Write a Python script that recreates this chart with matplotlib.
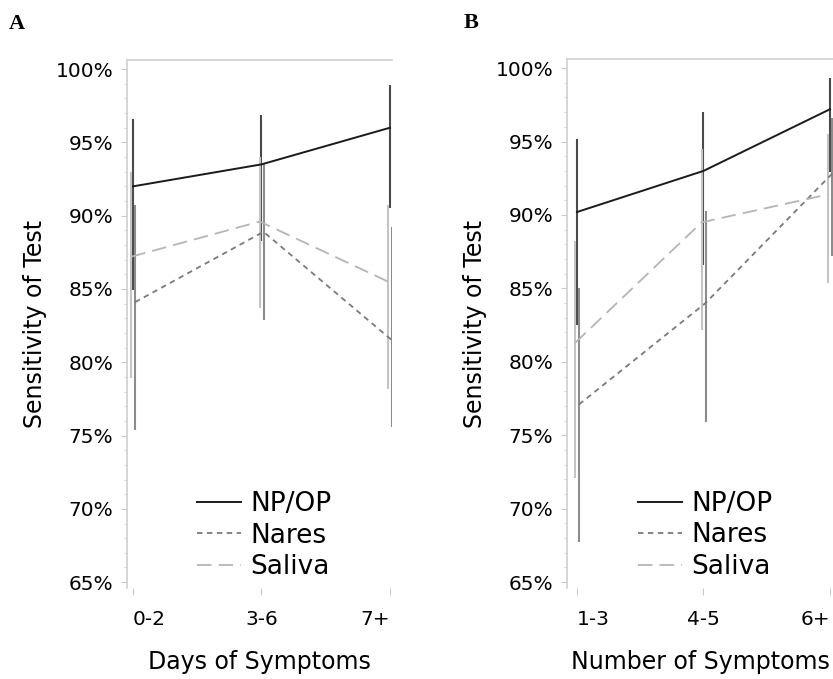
import matplotlib
matplotlib.use("Agg")
import matplotlib.pyplot as plt
from matplotlib.lines import Line2D
from matplotlib.ticker import MultipleLocator, FuncFormatter

# ---------------- data ----------------
days_labels = ["0-2", "3-6", "7+"]
num_labels = ["1-3", "4-5", "6+"]

# Panel A: Days of symptoms
A_np = [92.0, 93.5, 96.0]
A_np_lo = [84.9, 88.3, 90.5]
A_np_hi = [96.6, 96.9, 98.9]
A_nares = [84.1, 88.9, 81.5]
A_nares_lo = [75.4, 82.9, 75.6]
A_nares_hi = [90.7, 93.5, 89.2]
A_saliva = [87.2, 89.6, 85.5]
A_saliva_lo = [78.9, 83.7, 78.2]
A_saliva_hi = [93.0, 94.0, 90.7]

# Panel B: Number of symptoms
B_np = [90.2, 93.0, 97.2]
B_np_lo = [82.5, 86.6, 92.9]
B_np_hi = [95.2, 97.0, 99.3]
B_nares = [77.1, 84.0, 92.8]
B_nares_lo = [67.7, 75.9, 87.2]
B_nares_hi = [85.0, 90.3, 96.6]
B_saliva = [81.3, 89.5, 91.4]
B_saliva_lo = [72.1, 82.2, 85.4]
B_saliva_hi = [88.2, 94.5, 95.5]

series_names = ["NP/OP", "Nares", "Saliva"]

# ---------------- style ----------------
FONT = "DejaVu Sans"
plt.rcParams["font.family"] = [FONT]
line_styles = {
    "NP/OP": dict(color="#1a1a1a", lw=1.4, ls="-"),
    "Nares": dict(color="#7a7a7a", lw=1.3, ls=(0, (3, 2.5))),
    "Saliva": dict(color="#b5b5b5", lw=1.3, ls=(0, (8, 4))),
}
bar_colors = {"NP/OP": "#4a4a4a", "Nares": "#8c8c8c", "Saliva": "#c4c4c4"}
offsets = {"NP/OP": 0.0, "Nares": 0.016, "Saliva": -0.014}

W, H = 833, 679
fig = plt.figure(figsize=(W / 100, H / 100), dpi=100)

def px_axes(left, right, top, bottom):
    return fig.add_axes([left / W, (H - bottom) / H, (right - left) / W, (bottom - top) / H])

axA = px_axes(127, 392, 60, 588)
axB = px_axes(567, 833, 59, 588)

def draw(ax, labels, data, xlim, xtitle, leg_x):
    xs = list(range(len(labels)))
    for name in series_names:
        y, lo, hi = data[name]
        xo = [x + offsets[name] for x in xs]
        ax.vlines(xo, lo, hi, color=bar_colors[name], lw=1.5, zorder=2)
    for name in series_names:
        y, lo, hi = data[name]
        xo = [x + offsets[name] for x in xs]
        ax.plot(xo, y, zorder=3, **line_styles[name])
    ax.set_xlim(*xlim)
    ax.set_ylim(64.6, 100.62)
    for s in ["right", "bottom"]:
        ax.spines[s].set_visible(False)
    for s in ["left", "top"]:
        ax.spines[s].set_color("#d0d0d0")
        ax.spines[s].set_linewidth(1.2)
    ax.yaxis.set_major_locator(MultipleLocator(5))
    ax.yaxis.set_minor_locator(MultipleLocator(1))
    ax.yaxis.set_major_formatter(FuncFormatter(lambda v, p: f"{v:.0f}%"))
    ax.tick_params(axis="y", which="major", length=4, width=0.8, color="#c8c8c8",
                   labelsize=14.5, pad=6)
    ax.tick_params(axis="y", which="minor", length=2.5, width=0.7, color="#d8d8d8")
    ax.set_xticks(xs)
    ax.set_xticklabels(labels)
    ax.tick_params(axis="x", length=5, width=0.8, color="#c8c8c8", labelsize=14.5, pad=11)
    tls = ax.get_xticklabels()
    tls[0].set_ha("left")
    tls[-1].set_ha("right")
    ax.set_xlabel(xtitle, fontsize=17)
    ax.xaxis.set_label_coords(0.5, -0.14)
    ax.xaxis.label.set_va("center")
    ax.set_ylabel("Sensitivity of Test", fontsize=17)
    ax.yaxis.set_label_coords(-0.347, 0.5)
    ax.yaxis.label.set_va("center")
    handles = [Line2D([], [], **line_styles[n]) for n in series_names]
    ax.legend(handles, series_names, loc="upper left", frameon=False, fontsize=19,
              bbox_to_anchor=(leg_x, 0.183), handlelength=1.65, handletextpad=0.38,
              labelspacing=0.2, borderaxespad=0, borderpad=0)

dataA = {"NP/OP": (A_np, A_np_lo, A_np_hi),
         "Nares": (A_nares, A_nares_lo, A_nares_hi),
         "Saliva": (A_saliva, A_saliva_lo, A_saliva_hi)}
dataB = {"NP/OP": (B_np, B_np_lo, B_np_hi),
         "Nares": (B_nares, B_nares_lo, B_nares_hi),
         "Saliva": (B_saliva, B_saliva_lo, B_saliva_hi)}

draw(axA, days_labels, dataA, (-0.047, 2.016), "Days of Symptoms", (197 - 127) / 265)
draw(axB, num_labels, dataB, (-0.079, 2.024), "Number of Symptoms", (638 - 567) / 266)

fig.text(17 / W, 1 - 24 / H, "A", fontsize=16, fontweight="bold",
         family="Liberation Serif", ha="center", va="center")
fig.text(471 / W, 1 - 23 / H, "B", fontsize=16, fontweight="bold",
         family="Liberation Serif", ha="center", va="center")

fig.savefig("out.png", dpi=100)
